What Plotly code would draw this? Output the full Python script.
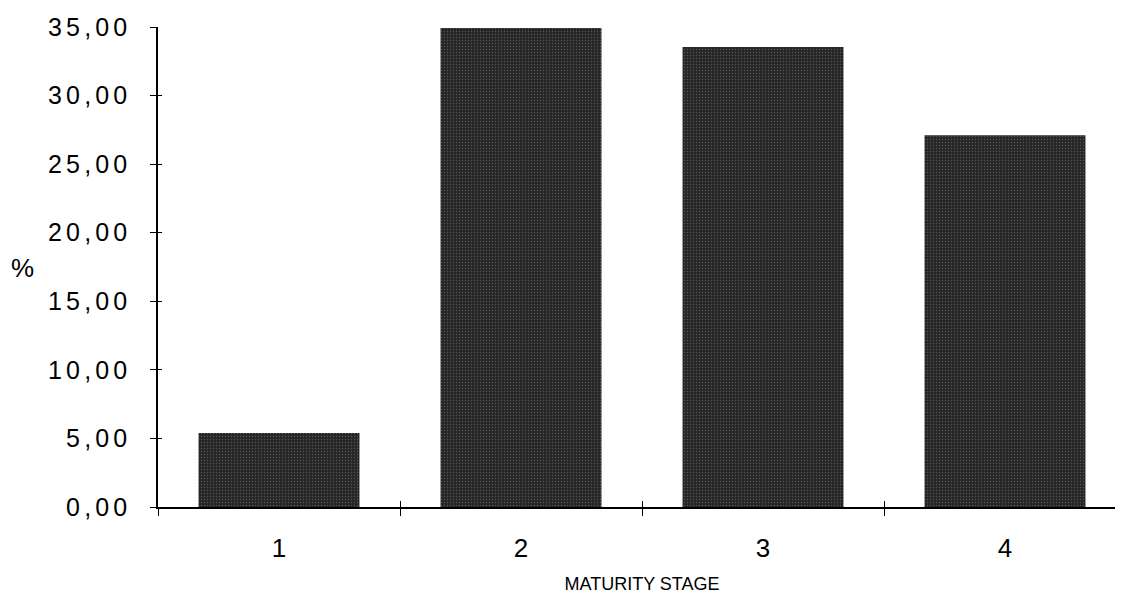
import plotly.graph_objects as go

categories = ["1", "2", "3", "4"]
values = [5.40, 34.93, 33.55, 27.10]
y_tick_vals = [0, 5, 10, 15, 20, 25, 30, 35]
y_tick_text = ["0\u2006,\u20060\u20060", "5\u2006,\u20060\u20060", "1\u20060\u2006,\u20060\u20060",
               "1\u20065\u2006,\u20060\u20060", "2\u20060\u2006,\u20060\u20060", "2\u20065\u2006,\u20060\u20060",
               "3\u20060\u2006,\u20060\u20060", "3\u20065\u2006,\u20060\u20060"]

font_family = "Liberation Sans, Arial, sans-serif"

fig = go.Figure()
fig.add_trace(go.Bar(
    x=categories, y=values, width=0.665,
    marker=dict(
        color="#2b2b2b",
        line=dict(width=0),
        pattern=dict(shape=".", size=3, solidity=0.15, fgcolor="#8a8a8a", bgcolor="#262626"),
    ),
    showlegend=False,
))
# invisible helper trace for the overlay axes (crossing ticks)
fig.add_trace(go.Scatter(x=categories, y=values, xaxis="x2", yaxis="y2",
                         mode="markers", marker=dict(opacity=0), showlegend=False,
                         hoverinfo="skip"))

xr = [-0.5, 3.5]
fig.update_layout(
    width=1123, height=601,
    margin=dict(l=150, r=5, t=17, b=102),
    paper_bgcolor="white", plot_bgcolor="white",
    font=dict(family=font_family, color="black"),
    xaxis=dict(
        type="category", range=xr, tickson="boundaries",
        showline=True, linecolor="black", linewidth=1.5,
        ticks="outside", ticklen=7, tickwidth=1.2, tickcolor="black",
        showgrid=False, zeroline=False,
        tickfont=dict(size=26), ticklabelstandoff=17,
        title=dict(text="MATURITY STAGE", font=dict(size=18), standoff=15),
    ),
    yaxis=dict(
        range=[0, 35], tickvals=y_tick_vals, ticktext=y_tick_text,
        showline=True, linecolor="black", linewidth=1.5,
        ticks="outside", ticklen=6, tickwidth=1.2, tickcolor="black",
        showgrid=False, zeroline=False,
        tickfont=dict(size=25), ticklabelstandoff=18,
    ),
    xaxis2=dict(
        type="category", range=xr, tickson="boundaries", overlaying="x",
        anchor="y2", side="bottom",
        showline=False, ticks="inside", ticklen=6, tickwidth=1.2, tickcolor="black",
        showticklabels=False, showgrid=False, zeroline=False,
    ),
    yaxis2=dict(
        range=[0, 35], tickvals=y_tick_vals, overlaying="y", anchor="x2", side="left",
        showline=False, ticks="inside", ticklen=4, tickwidth=1.2, tickcolor="black",
        showticklabels=False, showgrid=False, zeroline=False,
    ),
    annotations=[dict(
        text="%", xref="paper", yref="paper",
        x=(22.5 - 158) / 968, y=(507 - 267.5) / 482,
        xanchor="center", yanchor="middle", showarrow=False,
        font=dict(size=26),
    )],
)

fig.write_html("out.html")
